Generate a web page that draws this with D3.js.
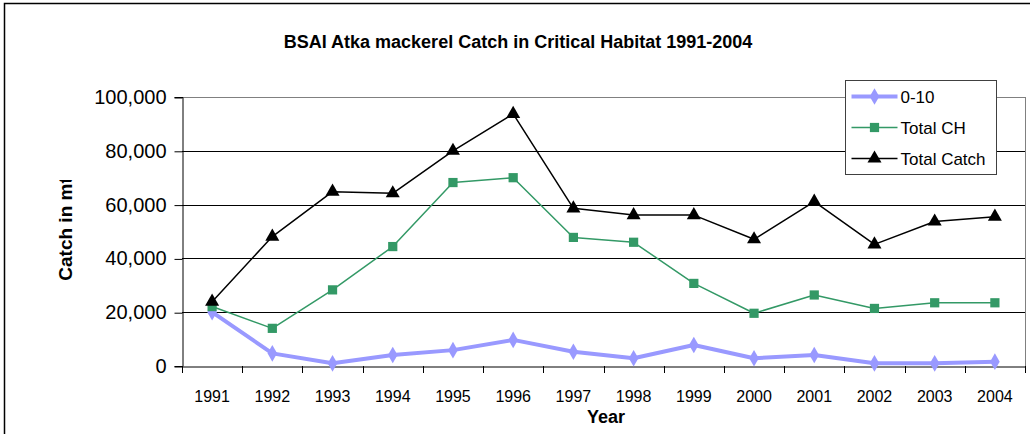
<!DOCTYPE html>
<html>
<head>
<meta charset="utf-8">
<script src="https://cdn.jsdelivr.net/npm/d3@7"></script>
<style>
  body { margin: 0; background: #fff; }
  svg { display: block; }
</style>
</head>
<body>
<svg id="chart" width="1030" height="434"></svg>
<script>
// 年份
const years = ['1991', '1992', '1993', '1994', '1995', '1996', '1997',
  '1998', '1999', '2000', '2001', '2002', '2003', '2004'];
// 0-10 海里范围内渔获
const catch010 = [20000, 4700, 1000, 4100, 5900, 9700, 5300,
  2900, 7800, 2900, 4100, 1000, 1000, 1600];
// 关键栖息地总渔获
const totalCH = [22100, 14000, 28300, 44400, 68200, 70000, 47800,
  46000, 30700, 19600, 26400, 21400, 23500, 23500];
// 总渔获
const totalCatch = [23900, 48100, 64800, 64200, 80000, 93700, 58600,
  56100, 56100, 47100, 61100, 45200, 53700, 55500];
// y 轴刻度
const yTicks = [0, 20000, 40000, 60000, 80000, 100000];

const series = [
  { name: '0-10', values: catch010, color: '#9999ff', width: 4, symbol: d3.symbolDiamond, size: 80 },
  { name: 'Total CH', values: totalCH, color: '#339966', width: 1.5, symbol: d3.symbolSquare, size: 85 },
  { name: 'Total Catch', values: totalCatch, color: '#000000', width: 1.5, symbol: d3.symbolTriangle, size: 85 }
];

const svg = d3.select('#chart');
const plot = { left: 182, right: 1025, top: 97, bottom: 366 };

// 外框
svg.append('rect')
  .attr('x', 4.5).attr('y', 3.5).attr('width', 1100).attr('height', 600)
  .attr('fill', '#fff').attr('stroke', '#000').attr('stroke-width', 1.5);

// 比例尺
const x = d3.scaleBand().domain(years).range([plot.left, plot.right]);
const y = d3.scaleLinear().domain([0, 100000]).range([plot.bottom, plot.top]);

// 网格线
svg.append('g')
  .selectAll('line')
  .data(yTicks.filter(d => d > 0))
  .join('line')
  .attr('x1', plot.left).attr('x2', plot.right)
  .attr('y1', d => Math.round(y(d)) + 0.5).attr('y2', d => Math.round(y(d)) + 0.5)
  .attr('stroke', d => d === 100000 ? '#808080' : '#000')
  .attr('stroke-width', 1);

// 绘图区右边框
svg.append('line')
  .attr('x1', plot.right + 0.5).attr('x2', plot.right + 0.5)
  .attr('y1', plot.top).attr('y2', plot.bottom)
  .attr('stroke', '#808080');

// y 轴
const yAxis = svg.append('g')
  .attr('transform', `translate(${plot.left + 0.5},0)`)
  .call(d3.axisLeft(y).tickValues(yTicks).tickFormat(d3.format(',')).tickSize(8).tickPadding(8));
yAxis.select('.domain').attr('stroke', '#000');
yAxis.selectAll('.tick line').attr('stroke', '#000').attr('transform', 'translate(0,0.5)');
yAxis.selectAll('text')
  .attr('font-family', 'Liberation Sans, Arial, sans-serif')
  .attr('font-size', 20).attr('fill', '#000');

// x 轴
const xAxis = svg.append('g')
  .attr('transform', `translate(0,${plot.bottom + 0.5})`)
  .call(d3.axisBottom(x).tickSize(0).tickPadding(24));
xAxis.select('.domain').attr('stroke', '#000');
xAxis.selectAll('text')
  .attr('font-family', 'Liberation Sans Narrow, Liberation Sans, Arial, sans-serif')
  .attr('font-size', 16).attr('fill', '#000');
// 分类刻度
svg.append('g')
  .selectAll('line')
  .data(years.concat(['end']))
  .join('line')
  .attr('x1', (d, i) => Math.round(plot.left + i * x.step()) + 0.5)
  .attr('x2', (d, i) => Math.round(plot.left + i * x.step()) + 0.5)
  .attr('y1', plot.bottom).attr('y2', plot.bottom + 7)
  .attr('stroke', '#000');

// 折线与标记
const line = d3.line()
  .x((d, i) => x(years[i]) + x.bandwidth() / 2)
  .y(d => y(d));

series.forEach(s => {
  svg.append('path')
    .datum(s.values)
    .attr('d', line)
    .attr('fill', 'none')
    .attr('stroke', s.color)
    .attr('stroke-width', s.width)
    .attr('stroke-linejoin', 'round');
  svg.append('g')
    .selectAll('path')
    .data(s.values)
    .join('path')
    .attr('transform', (d, i) => `translate(${x(years[i]) + x.bandwidth() / 2},${y(d)})`)
    .attr('d', d3.symbol().type(s.symbol).size(s.size))
    .attr('fill', s.color);
});

// 标题
svg.append('text')
  .attr('x', 518).attr('y', 48)
  .attr('text-anchor', 'middle')
  .attr('font-family', 'Liberation Sans Narrow, Liberation Sans, Arial, sans-serif')
  .attr('font-weight', 'bold').attr('font-size', 18)
  .text('BSAI Atka mackerel Catch in Critical Habitat 1991-2004');

// y 轴标题（顶部被裁切）
svg.append('clipPath').attr('id', 'ytclip')
  .append('rect').attr('x', 0).attr('y', 180).attr('width', 200).attr('height', 200);
svg.append('g')
  .attr('clip-path', 'url(#ytclip)')
  .append('text')
  .attr('transform', 'translate(72,229) rotate(-90)')
  .attr('text-anchor', 'middle')
  .attr('font-family', 'Liberation Sans, Arial, sans-serif')
  .attr('font-weight', 'bold').attr('font-size', 19)
  .text('Catch in mt');

// x 轴标题
svg.append('text')
  .attr('x', 606).attr('y', 423)
  .attr('text-anchor', 'middle')
  .attr('font-family', 'Liberation Sans Narrow, Liberation Sans, Arial, sans-serif')
  .attr('font-weight', 'bold').attr('font-size', 18)
  .text('Year');

// 图例
const legend = svg.append('g').attr('transform', 'translate(845.5,80.5)');
legend.append('rect')
  .attr('width', 151).attr('height', 94)
  .attr('fill', '#fff').attr('stroke', '#404040');
series.forEach((s, i) => {
  const g = legend.append('g').attr('transform', `translate(0,${16 + i * 31})`);
  g.append('line')
    .attr('x1', 6).attr('x2', 52)
    .attr('stroke', s.color).attr('stroke-width', s.width);
  g.append('path')
    .attr('transform', 'translate(29,0)')
    .attr('d', d3.symbol().type(s.symbol).size(s.size))
    .attr('fill', s.color);
  g.append('text')
    .attr('x', 55).attr('y', 6)
    .attr('font-family', 'Liberation Sans, Arial, sans-serif')
    .attr('font-size', 17)
    .text(s.name);
});
</script>
</body>
</html>
